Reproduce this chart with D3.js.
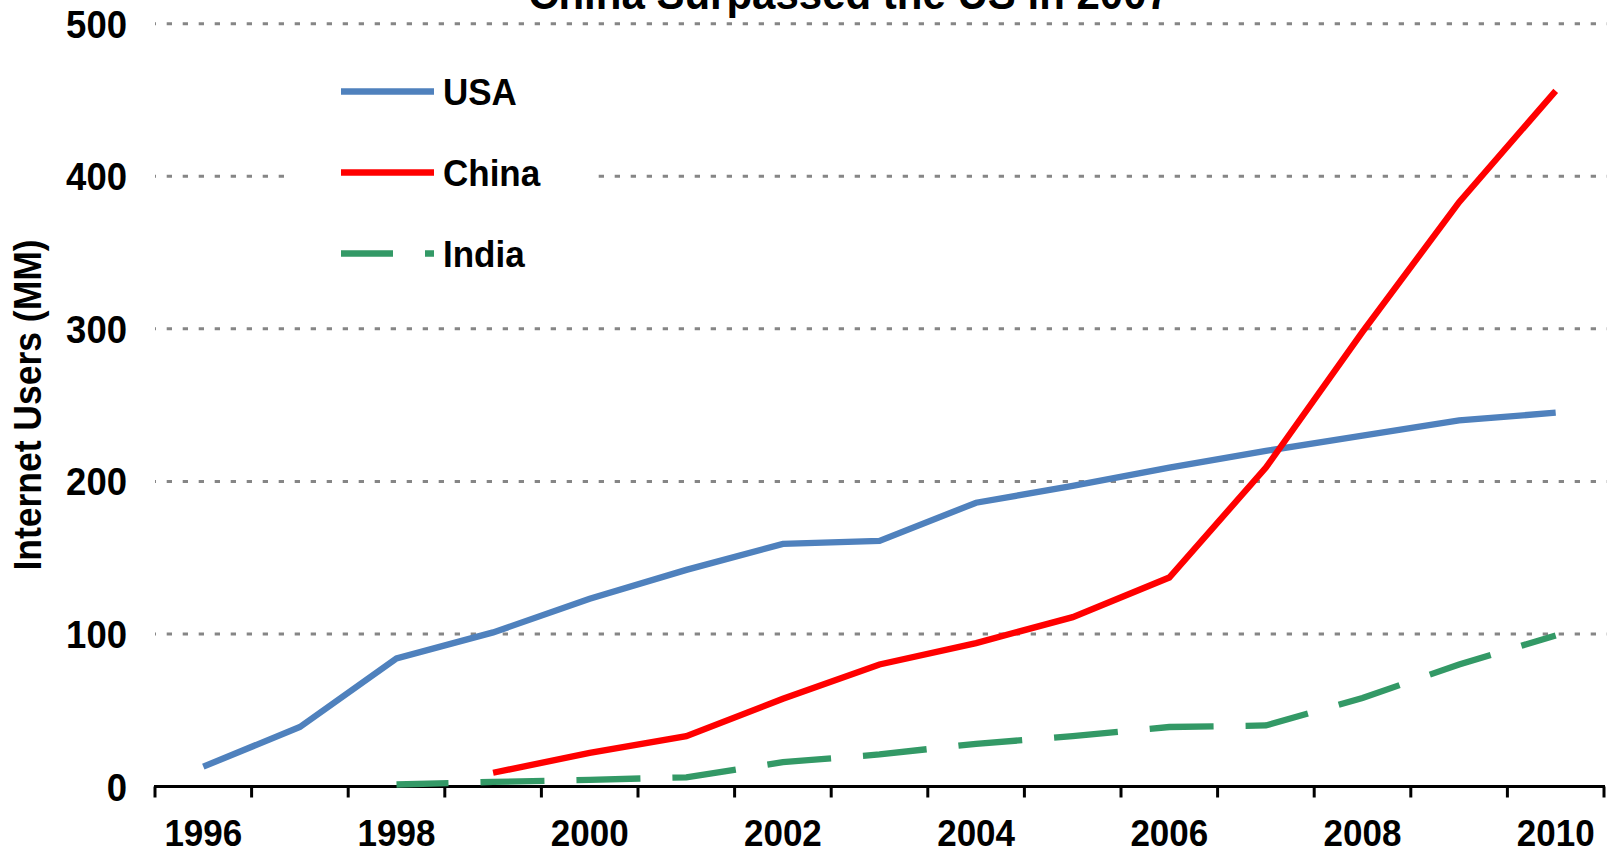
<!DOCTYPE html>
<html>
<head>
<meta charset="utf-8">
<script src="https://cdn.jsdelivr.net/npm/d3@7"></script>
<style>
  html, body { margin: 0; padding: 0; background: #fff; }
  svg { display: block; }
  text { font-family: "Liberation Sans", Arial, sans-serif; font-weight: bold; fill: #000; }
</style>
</head>
<body>
<svg id="chart" width="1607" height="854"></svg>
<script>
const years = ["1996","1997","1998","1999","2000","2001","2002","2003","2004","2005","2006","2007","2008","2009","2010"];
const yearLabels = ["1996","1998","2000","2002","2004","2006","2008","2010"];
const usa   = [13, 39, 84, 101, 123, 142, 159, 161, 186, 197, 209, 220, 230, 240, 245];
const china = [null, null, null, 9, 22, 33, 57.5, 80, 94, 111, 137, 209, 298, 383, 456];
const india = [null, null, 1.3, 3, 4.4, 6, 16, 21, 28, 33, 39, 40, 58, 80, 99];
const yTicks = [0, 100, 200, 300, 400, 500];
const seriesNames = ["USA", "China", "India"];
const title = "China Surpassed the US in 2007";
const yTitle = "Internet Users (MM)";

const svg = d3.select("#chart");
const W = 1607, H = 854;
const x = d3.scaleBand().domain(years).range([155, 1604]).padding(0);
const y = d3.scaleLinear().domain([0, 500]).range([786.5, 23.7]);
const xc = d => x(d) + x.bandwidth() / 2;
const SY = 1.07;

// gridlines
svg.append("g").selectAll("line")
  .data(yTicks.filter(v => v > 0))
  .join("line")
  .attr("x1", 155).attr("x2", W)
  .attr("y1", d => y(d)).attr("y2", d => y(d))
  .attr("stroke", "#868686").attr("stroke-width", 3)
  .attr("stroke-dasharray", "5.3,10.7").attr("stroke-dashoffset", 4.3);

// legend background (covers gridline)
svg.append("rect").attr("x", 287).attr("y", 50).attr("width", 305).attr("height", 250).attr("fill", "#fff");

// y tick labels
svg.append("g").selectAll("text")
  .data(yTicks).join("text")
  .attr("transform", d => `translate(127,${y(d)}) scale(1,${SY})`)
  .attr("dy", "0.36em")
  .attr("text-anchor", "end").attr("font-size", 36.5)
  .text(d => d);

// x axis
const gx = svg.append("g").attr("transform", `translate(0,${y(0)})`);
gx.append("line").attr("x1", 154).attr("x2", 1605).attr("y1", 0).attr("y2", 0)
  .attr("stroke", "#000").attr("stroke-width", 3);
const edges = years.map(d => x(d)).concat([x.range()[1]]);
gx.selectAll("line.tick").data(edges).join("line").attr("class", "tick")
  .attr("x1", d => d).attr("x2", d => d).attr("y1", 0).attr("y2", 11)
  .attr("stroke", "#000").attr("stroke-width", 3);
gx.selectAll("text").data(yearLabels).join("text")
  .attr("transform", d => `translate(${xc(d)},59.5) scale(1,${SY})`)
  .attr("text-anchor", "middle").attr("font-size", 35)
  .text(d => d);

// lines
const line = d3.line()
  .defined(d => d.v != null)
  .x(d => xc(d.year)).y(d => y(d.v));
const toPts = arr => years.map((yr, i) => ({ year: yr, v: arr[i] }));

const styles = [
  { data: usa, color: "#4F81BD", dash: null },
  { data: china, color: "#FF0000", dash: null },
  { data: india, color: "#339966", dash: "64,32" }
];
styles.forEach(s => {
  svg.append("path").datum(toPts(s.data))
    .attr("d", line)
    .attr("fill", "none").attr("stroke", s.color).attr("stroke-width", 6.3)
    .attr("stroke-linecap", "butt").attr("stroke-linejoin", "miter")
    .attr("stroke-dasharray", s.dash).attr("stroke-dashoffset", s.dash ? 12 : null);
});

// legend
const lg = svg.append("g");
seriesNames.forEach((n, i) => {
  const ly = 91.5 + i * 81;
  const s = styles[i];
  lg.append("line").attr("x1", 341).attr("x2", 434).attr("y1", ly).attr("y2", ly)
    .attr("stroke", s.color).attr("stroke-width", 6.3)
    .attr("stroke-dasharray", s.dash).attr("stroke-dashoffset", s.dash ? 12 : null);
  lg.append("text").attr("transform", `translate(443,${ly}) scale(1,${SY})`).attr("dy", "0.36em")
    .attr("font-size", 35).text(n);
});

// title
svg.append("text").attr("transform", `translate(849,8.5) scale(1,${SY})`).attr("text-anchor", "middle")
  .attr("font-size", 42).text(title);

// y title
svg.append("text").attr("transform", `translate(41,405) rotate(-90) scale(1,${SY})`)
  .attr("text-anchor", "middle").attr("font-size", 35.5).text(yTitle);
</script>
</body>
</html>
